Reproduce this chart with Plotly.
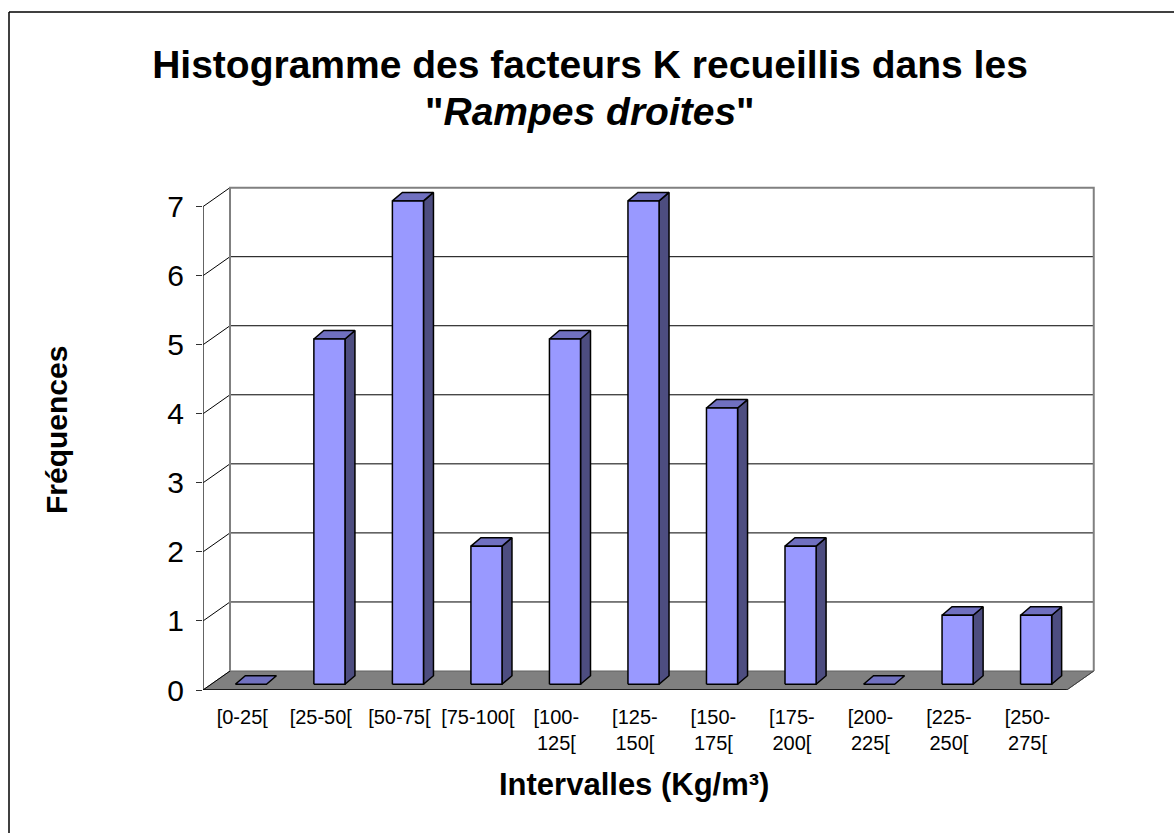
import numpy as np
import plotly.graph_objects as go

# ---- data ----
categories = ["[0-25[", "[25-50[", "[50-75[", "[75-100[", "[100-<br>125[", "[125-<br>150[",
              "[150-<br>175[", "[175-<br>200[", "[200-<br>225[", "[225-<br>250[", "[250-<br>275["]
frequencies = [0, 5, 7, 2, 5, 7, 4, 2, 0, 1, 1]
y_ticks = [0, 1, 2, 3, 4, 5, 6, 7]

title_line1 = "Histogramme des facteurs K recueillis dans les"
title_line2 = "Rampes droites"
x_title = "Intervalles (Kg/m³)"
y_title = "Fréquences"

# ---- style / geometry ----
FONT = "Liberation Sans, Arial, sans-serif"
W, H = 1174, 833
ML, MR, MT, MB = 203, 68, 179, 143
XR = [-0.5, 11.0]
YR = [0, 7.4]
n = len(categories)
ymax = max(y_ticks)
PW, PH = W - ML - MR, H - MT - MB


def px_x(px):
    return (px - ML) / PW


def px_y(py):
    return ((H - MB) - py) / PH


wall_dx, wall_dy = 0.344, 0.275      # depth offset of back wall
bar_dx, bar_dy = 0.11, 0.083         # offset of bar front face
hw = 0.198                           # half width of bar
ddx, ddy = 0.127, 0.123              # bar depth

FRONT = "#9999FF"
SIDE = "#4D4D80"
TOP = "#7070C0"
FLOOR = "#808080"

fig = go.Figure()

left, right = -0.5, n - 0.5

# floor
fig.add_trace(go.Scatter(
    x=[left, right, right + wall_dx, left + wall_dx, left],
    y=[0, 0, wall_dy, wall_dy, 0],
    fill="toself", fillcolor=FLOOR, mode="lines",
    line=dict(color="#606060", width=1), hoverinfo="skip", showlegend=False))

# back wall gridlines (1..ymax-1) black
gx, gy = [], []
for k in y_ticks[1:-1]:
    gx += [left + wall_dx, right + wall_dx, None]
    gy += [k + wall_dy, k + wall_dy, None]
fig.add_trace(go.Scatter(x=gx, y=gy, mode="lines", line=dict(color="#000000", width=1),
                         hoverinfo="skip", showlegend=False))

# side diagonals
dx_, dy_ = [], []
for k in y_ticks:
    dx_ += [left, left + wall_dx, None]
    dy_ += [k, k + wall_dy, None]
fig.add_trace(go.Scatter(x=dx_, y=dy_, mode="lines", line=dict(color="#000000", width=1),
                         hoverinfo="skip", showlegend=False))

# wall edges (gray)
fig.add_trace(go.Scatter(
    x=[left + wall_dx, left + wall_dx, right + wall_dx, right + wall_dx],
    y=[wall_dy, ymax + wall_dy, ymax + wall_dy, wall_dy],
    mode="lines", line=dict(color="#808080", width=2), hoverinfo="skip", showlegend=False))

# floor right diagonal
fig.add_trace(go.Scatter(x=[right, right + wall_dx], y=[0, wall_dy], mode="lines",
                         line=dict(color="#404040", width=1), hoverinfo="skip", showlegend=False))

# bars
fx, fy, sx, sy, tx, ty = [], [], [], [], [], []
for i, v in enumerate(frequencies):
    x0 = i - hw + bar_dx
    x1 = i + hw + bar_dx
    yb = bar_dy
    yt = v + bar_dy
    if v > 0:
        fx += [x0, x1, x1, x0, x0, None]
        fy += [yb, yb, yt, yt, yb, None]
        sx += [x1, x1 + ddx, x1 + ddx, x1, x1, None]
        sy += [yb, yb + ddy, yt + ddy, yt, yb, None]
    tx += [x0, x1, x1 + ddx, x0 + ddx, x0, None]
    ty += [yt, yt, yt + ddy, yt + ddy, yt, None]

for xs, ys, col in [(sx, sy, SIDE), (tx, ty, TOP), (fx, fy, FRONT)]:
    fig.add_trace(go.Scatter(x=xs, y=ys, fill="toself", fillcolor=col, mode="lines",
                             line=dict(color="#000000", width=1.5), hoverinfo="skip",
                             showlegend=False))

# axis lines
fig.add_trace(go.Scatter(x=[left, left], y=[0, ymax], mode="lines",
                         line=dict(color="#303030", width=1.5), hoverinfo="skip", showlegend=False))
fig.add_trace(go.Scatter(x=[left, right], y=[0, 0], mode="lines",
                         line=dict(color="#000000", width=1.5), hoverinfo="skip", showlegend=False))

boundaries = [i - 0.5 for i in range(n + 1)]

fig.update_layout(
    width=W, height=H,
    margin=dict(l=ML, r=MR, t=MT, b=MB, pad=0),
    paper_bgcolor="white", plot_bgcolor="rgba(0,0,0,0)",
    font=dict(family=FONT, color="black"),
    showlegend=False,
    title=dict(
        text="<b>" + title_line1 + "</b>",
        x=590 / W, xref="container", xanchor="center",
        y=1 - 64 / H, yref="container", yanchor="middle",
        font=dict(size=39, family=FONT, color="black")),
    xaxis=dict(range=XR, tickmode="array", tickvals=list(range(n)), ticktext=categories,
               ticks="", showgrid=False, zeroline=False, showline=False,
               tickfont=dict(size=20, family=FONT, color="black"), ticklabelstandoff=13,
               automargin=False, fixedrange=True),
    xaxis2=dict(range=XR, overlaying="x", anchor="y", side="bottom", tickmode="array",
                tickvals=boundaries, ticks="outside", ticklen=9, tickwidth=1.2,
                tickcolor="black", showticklabels=False, showgrid=False, zeroline=False,
                showline=False, automargin=False),
    yaxis=dict(range=YR, tickmode="array", tickvals=y_ticks, ticks="outside", ticklen=6,
               tickwidth=1.2, tickcolor="#303030", showgrid=False, zeroline=False,
               showline=False, tickfont=dict(size=30, family=FONT, color="black"),
               ticklabelstandoff=6, automargin=False),
    annotations=[
        dict(text='<b>"<i>' + title_line2 + '</i>"</b>', xref="paper", yref="paper",
             x=px_x(590), y=px_y(112), xanchor="center", yanchor="middle", showarrow=False,
             font=dict(size=39, family=FONT, color="black")),
        dict(text="<b>" + x_title + "</b>", xref="paper", yref="paper",
             x=px_x(634), y=px_y(784),
             xanchor="center", yanchor="middle", showarrow=False,
             font=dict(size=31, family=FONT, color="black")),
        dict(text="<b>" + y_title + "</b>", xref="paper", yref="paper",
             x=px_x(56), y=px_y(430),
             xanchor="center", yanchor="middle", showarrow=False, textangle=-90,
             font=dict(size=30, family=FONT, color="black")),
    ],
    shapes=[
        dict(type="line", xref="paper", yref="paper",
             x0=px_x(9), x1=px_x(9), y0=px_y(12), y1=px_y(840),
             line=dict(color="black", width=1.5)),
        dict(type="line", xref="paper", yref="paper",
             x0=px_x(9), x1=px_x(1180), y0=px_y(12), y1=px_y(12),
             line=dict(color="black", width=1.5)),
    ],
)

fig.write_html("out.html", config={"displayModeBar": False},
               post_script="document.body.style.margin='0px';document.body.style.overflow='hidden';")
